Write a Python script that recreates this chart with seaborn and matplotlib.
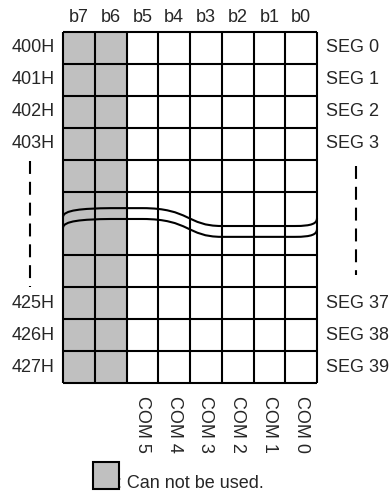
import numpy as np
import matplotlib
matplotlib.use('Agg')
import matplotlib.pyplot as plt
from matplotlib.colors import ListedColormap
from matplotlib.path import Path
from matplotlib.patches import PathPatch, Rectangle
import seaborn as sns

# --- data ---
bits = ['b7', 'b6', 'b5', 'b4', 'b3', 'b2', 'b1', 'b0']
addresses = ['400H', '401H', '402H', '403H', '', '', '', '', '425H', '426H', '427H']
segments = ['SEG 0', 'SEG 1', 'SEG 2', 'SEG 3', '', '', '', '', 'SEG 37', 'SEG 38', 'SEG 39']
commons = ['', '', 'COM 5', 'COM 4', 'COM 3', 'COM 2', 'COM 1', 'COM 0']
unused_bits = ['b7', 'b6']
merged_gap = 6          # no line between row 5 and row 6 (break in the table)
legend_text = ': Can not be used.'

GRAY = '#c0c0c0'

sns.set_theme(style='white')
plt.rcParams['font.family'] = ['Liberation Sans', 'DejaVu Sans']
plt.rcParams['font.size'] = 13

mask = np.array([[1 if b in unused_bits else 0 for b in bits] for _ in addresses])

fig = plt.figure(figsize=(3.92, 4.91), dpi=100)
ax = fig.add_axes([63 / 392, 1 - 383 / 491, 254 / 392, 351 / 491])

sns.heatmap(mask, cmap=ListedColormap(['white', GRAY]), cbar=False,
            linewidths=0, xticklabels=bits, yticklabels=addresses, ax=ax)

nrows, ncols = len(addresses), len(bits)
# grid lines
ax.vlines(range(ncols + 1), 0, nrows, colors='black', lw=1.5, clip_on=False, zorder=3)
hl = [r for r in range(nrows + 1) if r != merged_gap]
ax.hlines(hl, 0, ncols, colors='black', lw=1.5, clip_on=False, zorder=3)

# ticks / labels
ax.xaxis.tick_top()
ax.tick_params(axis='x', length=0, pad=4, labelsize=13, rotation=0)
ax.tick_params(axis='y', length=0, pad=6, labelsize=13, rotation=0)
for lab in ax.get_yticklabels():
    lab.set_verticalalignment('center')

for i, s in enumerate(segments):
    if s:
        ax.text(ncols + 0.27, i + 0.5, s, ha='left', va='center', fontsize=13)

for j, c in enumerate(commons):
    if c:
        ax.text(j + 0.5, nrows + 0.42, c, ha='center', va='top',
                rotation=270, fontsize=13)

# break marks (double wavy line)
def wave(dy):
    verts = [(0, 5.80), (0, 5.58), (0.6, 5.53), (1.5, 5.52),
             (2.5, 5.52),
             (4.0, 5.52), (3.9, 6.08), (5.0, 6.08),
             (7.3, 6.08),
             (7.85, 6.08), (8.0, 6.0), (8.0, 5.83)]
    verts = [(x, y + dy) for x, y in verts]
    codes = [Path.MOVETO, Path.CURVE4, Path.CURVE4, Path.CURVE4,
             Path.LINETO,
             Path.CURVE4, Path.CURVE4, Path.CURVE4,
             Path.LINETO,
             Path.CURVE4, Path.CURVE4, Path.CURVE4]
    return Path(verts, codes)

for dy in (0, 0.34):
    ax.add_patch(PathPatch(wave(dy), fill=False, lw=1.5, edgecolor='black',
                           zorder=4, clip_on=False))

# vertical dashed continuation lines
ax.plot([-1.04, -1.04], [4.05, 7.99], color='black', lw=1.5,
        linestyle=(0, (6.2, 3.8)), clip_on=False)
ax.plot([9.23, 9.23], [4.2, 7.62], color='black', lw=1.5,
        linestyle=(0, (6.2, 3.8)), clip_on=False)

# legend
ax.text(1.70, 14.28, legend_text, ha='left', va='baseline', fontsize=13,
        zorder=2, clip_on=False)
ax.add_patch(Rectangle((0.94, 13.48), 0.82, 0.85, facecolor=GRAY,
                       edgecolor='black', lw=1.5, zorder=5, clip_on=False))

ax.set_xlabel('')
ax.set_ylabel('')
for sp in ax.spines.values():
    sp.set_visible(False)

fig.savefig('out.png', dpi=100)
